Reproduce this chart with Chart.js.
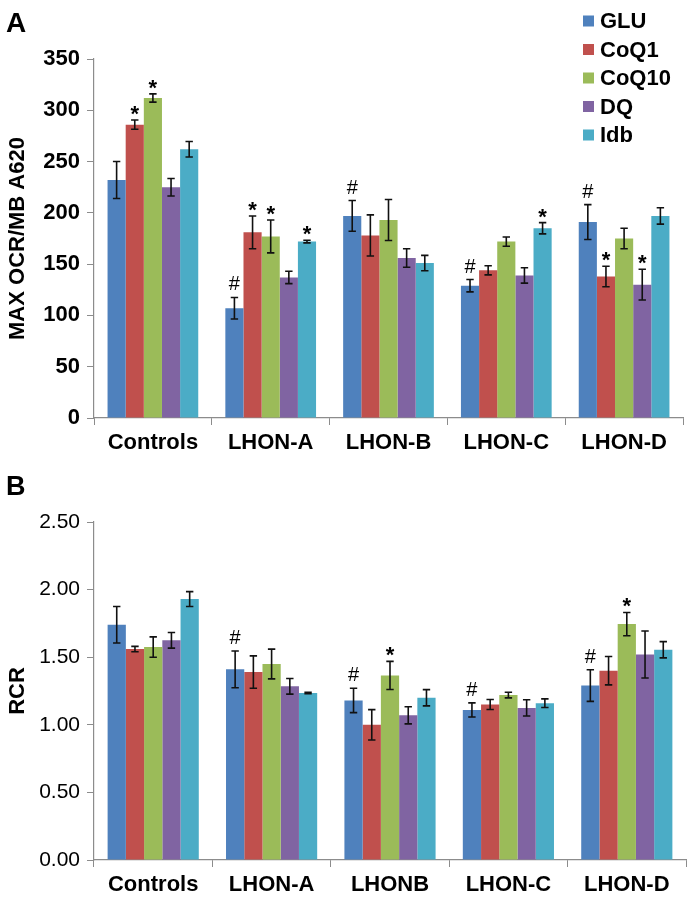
<!DOCTYPE html>
<html>
<head>
<meta charset="utf-8">
<script src="https://cdn.jsdelivr.net/npm/chart.js@4/dist/chart.umd.min.js"></script>
<style>
  body { margin: 0; background: #fff; }
  .panel { position: relative; width: 688px; }
</style>
</head>
<body>
<div class="panel"><canvas id="ocrChart" width="688" height="460"></canvas></div>
<div class="panel"><canvas id="rcrChart" width="688" height="438"></canvas></div>
<script>
// series
const seriesNames = ['GLU', 'CoQ1', 'CoQ10', 'DQ', 'Idb'];
const seriesColors = ['#4F81BD', '#C0504D', '#9BBB59', '#8064A2', '#4BACC6'];

// panel A - max OCR / MB A620
const ocrLabels = ['Controls', 'LHON-A', 'LHON-B', 'LHON-C', 'LHON-D'];
const ocrGlu = [232, 107, 197, 129, 191];
const ocrCoq1 = [286, 181, 178, 144, 138];
const ocrCoq10 = [312, 177, 193, 172, 175];
const ocrDq = [225, 137, 156, 139, 130];
const ocrIdb = [262, 172, 151, 185, 197];
const ocrGluErr = [18, 10.5, 15, 6, 17];
const ocrCoq1Err = [4.5, 16, 20, 4.5, 10];
const ocrCoq10Err = [4, 16, 20, 4.5, 10];
const ocrDqErr = [8.5, 6, 9, 7.5, 15];
const ocrIdbErr = [7.5, 1.3, 7.5, 5.5, 8];
const ocrGluMarks = ['', '#', '#', '#', '#'];
const ocrCoq1Marks = ['*', '*', '', '', '*'];
const ocrCoq10Marks = ['*', '*', '', '', ''];
const ocrDqMarks = ['', '', '', '', '*'];
const ocrIdbMarks = ['', '*', '', '*', ''];
const ocrTicks = [0, 350, 50];

// panel B - RCR
const rcrLabels = ['Controls', 'LHON-A', 'LHONB', 'LHON-C', 'LHON-D'];
const rcrGlu = [1.74, 1.41, 1.18, 1.11, 1.29];
const rcrCoq1 = [1.56, 1.39, 1.00, 1.15, 1.40];
const rcrCoq10 = [1.575, 1.45, 1.365, 1.22, 1.745];
const rcrDq = [1.625, 1.285, 1.07, 1.125, 1.52];
const rcrIdb = [1.93, 1.235, 1.20, 1.16, 1.555];
const rcrGluErr = [0.135, 0.136, 0.09, 0.052, 0.117];
const rcrCoq1Err = [0.02, 0.12, 0.112, 0.037, 0.105];
const rcrCoq10Err = [0.075, 0.11, 0.104, 0.021, 0.086];
const rcrDqErr = [0.058, 0.058, 0.063, 0.06, 0.174];
const rcrIdbErr = [0.055, 0.005, 0.06, 0.032, 0.06];
const rcrGluMarks = ['', '#', '#', '#', '#'];
const rcrCoq1Marks = ['', '', '', '', ''];
const rcrCoq10Marks = ['', '', '*', '', '*'];
const rcrDqMarks = ['', '', '', '', ''];
const rcrIdbMarks = ['', '', '', '', ''];
const rcrTicks = [0, 2.5, 0.5];

const FONT = '"Liberation Sans", Arial, sans-serif';
const AXIS_GRAY = '#8c8c8c';

function makeDatasets(values, errs, marks) {
  return values.map((v, i) => ({
    label: seriesNames[i],
    data: v,
    errors: errs[i],
    marks: marks[i],
    backgroundColor: seriesColors[i],
    borderWidth: 0,
    barPercentage: 1.0,
    categoryPercentage: 0.77
  }));
}

// error bars + significance marks
const errorBarPlugin = {
  id: 'errorBars',
  afterDatasetsDraw(chart) {
    const ctx = chart.ctx;
    const yScale = chart.scales.y;
    ctx.save();
    chart.data.datasets.forEach((ds, di) => {
      const meta = chart.getDatasetMeta(di);
      meta.data.forEach((bar, i) => {
        const v = ds.data[i];
        const e = ds.errors[i];
        const yTop = yScale.getPixelForValue(v + e);
        const yBot = yScale.getPixelForValue(v - e);
        ctx.strokeStyle = '#111';
        ctx.lineWidth = 1.6;
        ctx.beginPath();
        ctx.moveTo(bar.x, yTop);
        ctx.lineTo(bar.x, yBot);
        ctx.moveTo(bar.x - 3.7, yTop);
        ctx.lineTo(bar.x + 3.7, yTop);
        ctx.moveTo(bar.x - 3.7, yBot);
        ctx.lineTo(bar.x + 3.7, yBot);
        ctx.stroke();

        const m = ds.marks[i];
        if (m) {
          ctx.fillStyle = '#000';
          ctx.textAlign = 'center';
          ctx.textBaseline = 'alphabetic';
          if (m === '*') {
            ctx.font = 'bold 22px ' + FONT;
            ctx.fillText(m, bar.x, yTop + 1);
          } else {
            ctx.font = '20px ' + FONT;
            ctx.fillText(m, bar.x, yTop - 7);
          }
        }
      });
    });
    ctx.restore();
  }
};

// panel letter and legend
const decorPlugin = {
  id: 'decor',
  afterDraw(chart, args, opts) {
    const ctx = chart.ctx;
    ctx.save();
    ctx.fillStyle = '#000';
    ctx.textAlign = 'left';
    ctx.textBaseline = 'alphabetic';
    ctx.font = 'bold ' + opts.letterSize + 'px ' + FONT;
    ctx.fillText(opts.letter, 6, opts.letterY);
    if (opts.legend) {
      ctx.font = 'bold 22px ' + FONT;
      ctx.textBaseline = 'middle';
      seriesNames.forEach((name, i) => {
        const cy = 21 + i * 28.5;
        ctx.fillStyle = seriesColors[i];
        ctx.fillRect(583, cy - 5.5, 11, 11);
        ctx.fillStyle = '#000';
        ctx.fillText(name, 600, cy + 1);
      });
    }
    ctx.restore();
  }
};

function buildChart(canvasId, labels, datasets, ticks, opts) {
  return new Chart(document.getElementById(canvasId), {
    type: 'bar',
    data: { labels: labels, datasets: datasets },
    plugins: [errorBarPlugin, decorPlugin],
    options: {
      responsive: false,
      animation: false,
      devicePixelRatio: 1,
      layout: { padding: { top: opts.padTop, right: opts.padRight, left: 0, bottom: 0 } },
      plugins: {
        legend: { display: false },
        tooltip: { enabled: false },
        decor: { letter: opts.letter, letterY: opts.letterY, letterSize: opts.letterSize, legend: opts.legend }
      },
      scales: {
        x: {
          afterFit: s => { s.height = opts.xHeight; },
          grid: { drawOnChartArea: false, drawTicks: true, tickLength: 7, color: AXIS_GRAY, offset: true },
          border: { color: AXIS_GRAY, width: 1.2 },
          ticks: { color: '#000', padding: 5, font: { family: FONT, size: 22, weight: 'bold' } }
        },
        y: {
          min: ticks[0],
          max: ticks[1],
          afterFit: s => { s.width = 94; },
          grid: { drawOnChartArea: false, drawTicks: true, tickLength: 7, color: AXIS_GRAY },
          border: { color: AXIS_GRAY, width: 1.2 },
          ticks: {
            stepSize: ticks[2],
            padding: 7,
            color: '#000',
            font: { family: FONT, size: opts.tickSize, weight: opts.tickWeight },
            callback: v => opts.decimals ? v.toFixed(opts.decimals) : v
          },
          title: {
            display: true,
            text: opts.yTitle,
            color: '#000',
            padding: { top: 5, bottom: 0 },
            font: { family: FONT, size: 22, weight: 'bold' }
          }
        }
      }
    }
  });
}

buildChart('ocrChart', ocrLabels,
  makeDatasets(
    [ocrGlu, ocrCoq1, ocrCoq10, ocrDq, ocrIdb],
    [ocrGluErr, ocrCoq1Err, ocrCoq10Err, ocrDqErr, ocrIdbErr],
    [ocrGluMarks, ocrCoq1Marks, ocrCoq10Marks, ocrDqMarks, ocrIdbMarks]),
  ocrTicks,
  { padTop: 59, padRight: 5, xHeight: 42, letter: 'A', letterY: 32, letterSize: 28, legend: true,
    yTitle: 'MAX OCR/MB A620', tickSize: 22, tickWeight: 'bold', decimals: 0 });

buildChart('rcrChart', rcrLabels,
  makeDatasets(
    [rcrGlu, rcrCoq1, rcrCoq10, rcrDq, rcrIdb],
    [rcrGluErr, rcrCoq1Err, rcrCoq10Err, rcrDqErr, rcrIdbErr],
    [rcrGluMarks, rcrCoq1Marks, rcrCoq10Marks, rcrDqMarks, rcrIdbMarks]),
  rcrTicks,
  { padTop: 62, padRight: 2, xHeight: 38, letter: 'B', letterY: 35, letterSize: 27, legend: false,
    yTitle: 'RCR', tickSize: 21, tickWeight: 'normal', decimals: 2 });
</script>
</body>
</html>
